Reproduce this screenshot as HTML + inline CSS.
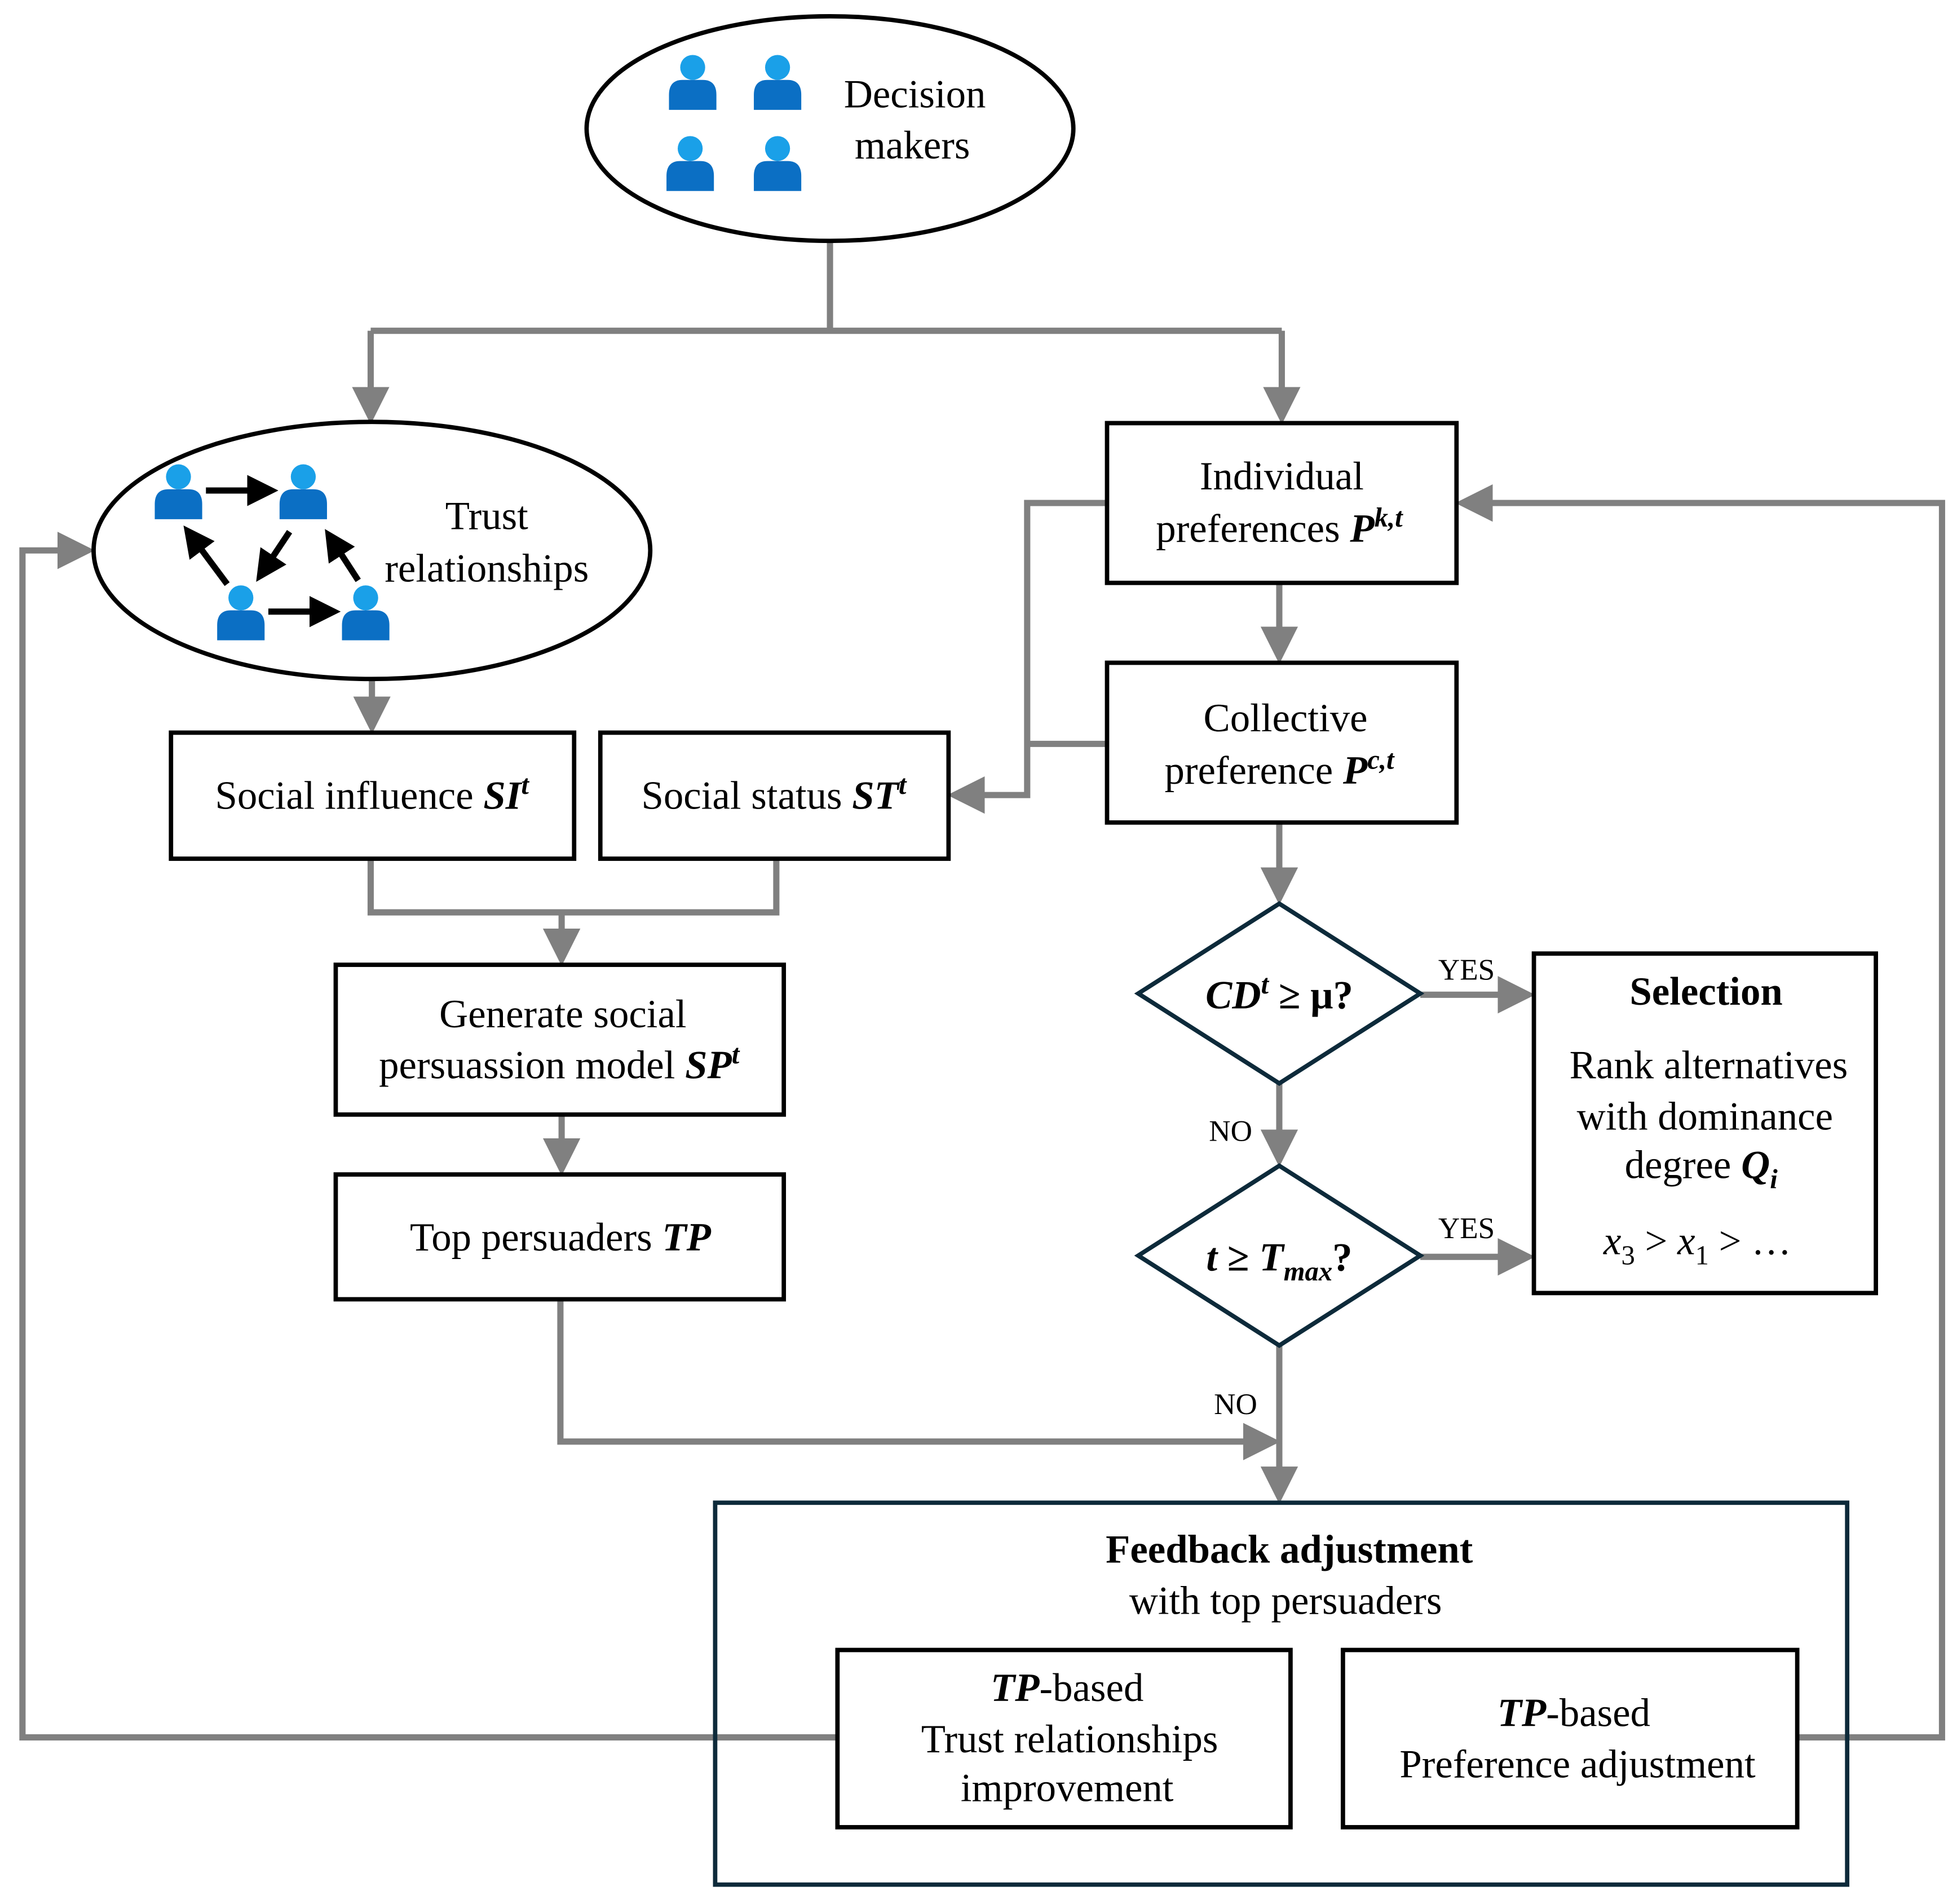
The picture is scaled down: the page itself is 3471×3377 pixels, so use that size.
<!DOCTYPE html>
<html><head><meta charset="utf-8"><style>
html,body{margin:0;padding:0;background:#fff}
svg{display:block}
text{font-family:"Liberation Serif",serif;fill:#000}
</style></head><body>
<svg width="3471" height="3377" viewBox="0 0 1568 1525.5" xmlns="http://www.w3.org/2000/svg">
<defs>
<marker id="a" markerWidth="6" markerHeight="6" refX="5" refY="3" orient="auto" markerUnits="strokeWidth"><path d="M0,0 L6,3 L0,6 z" fill="#808080"/></marker>
<marker id="b" markerWidth="5" markerHeight="5" refX="4" refY="2.5" orient="auto" markerUnits="strokeWidth"><path d="M0,0 L5,2.5 L0,5 z" fill="#000"/></marker>
<g id="p"><path d="M-19,20 L-19,8 Q-19,-4 -8,-4 L8,-4 Q19,-4 19,8 L19,20 z" fill="#0b6fc4"/><circle cx="0" cy="-14" r="10" fill="#1aa0e8"/></g>
</defs>
<g fill="none" stroke="#808080" stroke-width="5">
<path d="M665,193 V265 M297,265 H1027"/>
<path d="M297,265 V335" marker-end="url(#a)"/>
<path d="M1027,265 V335" marker-end="url(#a)"/>
<path d="M298,544 V583" marker-end="url(#a)"/>
<path d="M297,688 V731 H622 V688"/>
<path d="M450,731 V769" marker-end="url(#a)"/>
<path d="M450,893 V937" marker-end="url(#a)"/>
<path d="M449,1041 V1155 H1021" marker-end="url(#a)"/>
<path d="M887,403 H823 V637 H764" marker-end="url(#a)"/>
<path d="M887,596 H823"/>
<path d="M1025,467 V527" marker-end="url(#a)"/>
<path d="M1025,659 V720" marker-end="url(#a)"/>
<path d="M1138,797 H1225" marker-end="url(#a)"/>
<path d="M1025,868 V930" marker-end="url(#a)"/>
<path d="M1138,1007 H1225" marker-end="url(#a)"/>
<path d="M1025,1078 V1200" marker-end="url(#a)"/>
<path d="M671,1392 H18 V441 H71" marker-end="url(#a)"/>
<path d="M1440,1392 H1556 V403 H1171" marker-end="url(#a)"/>
</g>
<ellipse cx="665" cy="103" rx="195" ry="90" fill="#fff" stroke="#000" stroke-width="3.5"/>
<use href="#p" x="555" y="68"/><use href="#p" x="623" y="68"/><use href="#p" x="553" y="133"/><use href="#p" x="623" y="133"/>
<text x="733" y="86" font-size="32" text-anchor="middle">Decision</text>
<text x="731" y="127" font-size="32" text-anchor="middle">makers</text>
<ellipse cx="298" cy="441" rx="223" ry="103" fill="#fff" stroke="#000" stroke-width="3.5"/>
<use href="#p" x="143" y="396"/><use href="#p" x="243" y="396"/><use href="#p" x="193" y="493"/><use href="#p" x="293" y="493"/>
<g stroke="#000" stroke-width="5" fill="none">
<path d="M165,393 H218" marker-end="url(#b)"/>
<path d="M215,490 H268" marker-end="url(#b)"/>
<path d="M182,468 L150,425" marker-end="url(#b)"/>
<path d="M232,426 L208,462" marker-end="url(#b)"/>
<path d="M287,465 L263,428" marker-end="url(#b)"/>
</g>
<text x="390" y="424" font-size="32" text-anchor="middle">Trust</text>
<text x="390" y="466" font-size="32" text-anchor="middle">relationships</text>
<g fill="#fff" stroke="#000" stroke-width="3.5">
<rect x="887" y="339" width="280" height="128"/>
<rect x="887" y="531" width="280" height="128"/>
<rect x="137" y="587" width="323" height="101"/>
<rect x="481" y="587" width="279" height="101"/>
<rect x="269" y="773" width="359" height="120"/>
<rect x="269" y="941" width="359" height="100"/>
<rect x="1229" y="764" width="274" height="272"/>
</g>
<g fill="#fff" stroke="#0d2a3a" stroke-width="3.5">
<path d="M1025,724 L1138,796 L1025,868 L912,796 z"/>
<path d="M1025,934 L1138,1006 L1025,1078 L912,1006 z"/>
<rect x="573" y="1204" width="907" height="306" fill="none"/>
</g>
<g fill="#fff" stroke="#000" stroke-width="3.5">
<rect x="671" y="1322" width="363" height="142"/>
<rect x="1076" y="1322" width="364" height="142"/>
</g>
<g font-size="32" text-anchor="middle">
<text x="1027" y="392">Individual</text>
<text x="1025" y="434">preferences <tspan font-weight="bold" font-style="italic">P</tspan><tspan font-weight="bold" font-style="italic" font-size="22" dy="-12">k,t</tspan></text>
<text x="1030" y="586">Collective</text>
<text x="1025" y="628">preference <tspan font-weight="bold" font-style="italic">P</tspan><tspan font-weight="bold" font-style="italic" font-size="22" dy="-12">c,t</tspan></text>
<text x="298" y="648">Social influence <tspan font-weight="bold" font-style="italic">SI</tspan><tspan font-weight="bold" font-style="italic" font-size="22" dy="-12">t</tspan></text>
<text x="620" y="648">Social status <tspan font-weight="bold" font-style="italic">ST</tspan><tspan font-weight="bold" font-style="italic" font-size="22" dy="-12">t</tspan></text>
<text x="451" y="823">Generate social</text>
<text x="448" y="864">persuassion model <tspan font-weight="bold" font-style="italic">SP</tspan><tspan font-weight="bold" font-style="italic" font-size="22" dy="-12">t</tspan></text>
<text x="449" y="1002">Top persuaders <tspan font-weight="bold" font-style="italic">TP</tspan></text>
<text x="1025" y="808" font-weight="bold"><tspan font-style="italic">CD</tspan><tspan font-style="italic" font-size="22" dy="-12">t</tspan><tspan dy="12"> ≥ μ?</tspan></text>
<text x="1025" y="1018" font-weight="bold"><tspan font-style="italic">t</tspan> ≥ <tspan font-style="italic">T</tspan><tspan font-style="italic" font-size="22" dy="8">max</tspan><tspan dy="-8">?</tspan></text>
<text x="1367" y="805" font-weight="bold">Selection</text>
<text x="1369" y="864">Rank alternatives</text>
<text x="1366" y="905">with dominance</text>
<text x="1363" y="944">degree <tspan font-weight="bold" font-style="italic">Q</tspan><tspan font-weight="bold" font-style="italic" font-size="22" dy="8">i</tspan></text>
<text x="1360" y="1005" font-style="italic">x<tspan font-size="22" dy="8" font-style="normal">3</tspan><tspan dy="-8" font-style="normal"> &gt; </tspan>x<tspan font-size="22" dy="8" font-style="normal">1</tspan><tspan dy="-8" font-style="normal"> &gt;   …</tspan></text>
<text x="1033" y="1252" font-weight="bold">Feedback adjustment</text>
<text x="1030" y="1293">with top persuaders</text>
<text x="855" y="1363"><tspan font-weight="bold" font-style="italic">TP</tspan>-based</text>
<text x="857" y="1404">Trust relationships</text>
<text x="855" y="1443">improvement</text>
<text x="1261" y="1383"><tspan font-weight="bold" font-style="italic">TP</tspan>-based</text>
<text x="1264" y="1424">Preference adjustment</text>
</g>
<g font-size="24" text-anchor="middle">
<text x="1175" y="785">YES</text>
<text x="986" y="914">NO</text>
<text x="1175" y="992">YES</text>
<text x="990" y="1133">NO</text>
</g>
</svg>
</body></html>
